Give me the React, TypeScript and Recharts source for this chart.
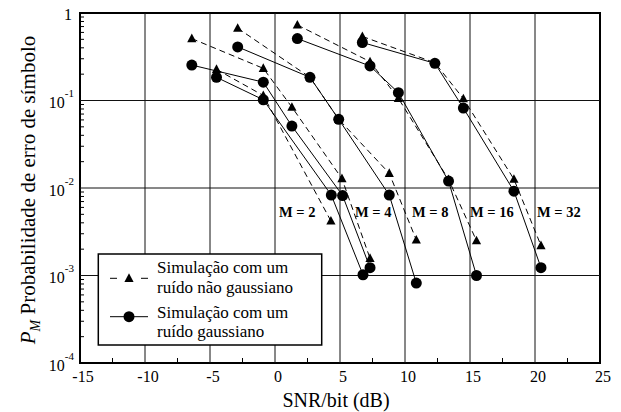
import React from "react";
import { LineChart, Line, XAxis, YAxis, ReferenceLine, ReferenceArea } from "recharts";

type Pt = { snr: number; p: number };

// SNR/bit (dB) vs symbol error probability
const m2Gauss: Pt[] = [
  { snr: -4.5, p: 0.184 },
  { snr: -0.9, p: 0.102 },
  { snr: 4.33, p: 0.0083 },
  { snr: 6.77, p: 0.00102 },
];
const m2NonGauss: Pt[] = [
  { snr: -4.5, p: 0.227 },
  { snr: -0.9, p: 0.114 },
  { snr: 4.3, p: 0.0042 },
];
const m4Gauss: Pt[] = [
  { snr: -6.4, p: 0.254 },
  { snr: -0.9, p: 0.162 },
  { snr: 1.3, p: 0.051 },
  { snr: 5.2, p: 0.0082 },
  { snr: 7.31, p: 0.00123 },
];
const m4NonGauss: Pt[] = [
  { snr: -6.4, p: 0.51 },
  { snr: -0.9, p: 0.233 },
  { snr: 1.3, p: 0.084 },
  { snr: 5.15, p: 0.0128 },
  { snr: 7.31, p: 0.00157 },
];
const m8Gauss: Pt[] = [
  { snr: -2.87, p: 0.41 },
  { snr: 2.69, p: 0.184 },
  { snr: 4.9, p: 0.061 },
  { snr: 8.79, p: 0.0083 },
  { snr: 10.87, p: 0.00082 },
];
const m8NonGauss: Pt[] = [
  { snr: -2.87, p: 0.67 },
  { snr: 2.69, p: 0.184 },
  { snr: 4.9, p: 0.061 },
  { snr: 8.79, p: 0.0147 },
  { snr: 10.87, p: 0.00255 },
];
const m16Gauss: Pt[] = [
  { snr: 1.72, p: 0.51 },
  { snr: 7.31, p: 0.248 },
  { snr: 9.49, p: 0.123 },
  { snr: 13.35, p: 0.012 },
  { snr: 15.5, p: 0.001 },
];
const m16NonGauss: Pt[] = [
  { snr: 1.72, p: 0.73 },
  { snr: 7.31, p: 0.278 },
  { snr: 9.49, p: 0.106 },
  { snr: 13.35, p: 0.0125 },
  { snr: 15.5, p: 0.0025 },
];
const m32Gauss: Pt[] = [
  { snr: 6.72, p: 0.46 },
  { snr: 12.3, p: 0.266 },
  { snr: 14.49, p: 0.082 },
  { snr: 18.38, p: 0.0092 },
  { snr: 20.46, p: 0.00123 },
];
const m32NonGauss: Pt[] = [
  { snr: 6.72, p: 0.54 },
  { snr: 12.3, p: 0.27 },
  { snr: 14.49, p: 0.105 },
  { snr: 18.38, p: 0.0126 },
  { snr: 20.46, p: 0.0022 },
];

const gaussSeries = [m2Gauss, m4Gauss, m8Gauss, m16Gauss, m32Gauss];
const nonGaussSeries = [m2NonGauss, m4NonGauss, m8NonGauss, m16NonGauss, m32NonGauss];

const xTicks = [-15, -12.5, -10, -7.5, -5, -2.5, 0, 2.5, 5, 7.5, 10, 12.5, 15, 17.5, 20, 22.5, 25];
const xGrid = [-10, -5, 0, 5, 10, 15, 20];
const yDecades = [0.0001, 0.001, 0.01, 0.1];
const yMantissas = [1, 2, 3, 4, 5, 6, 7, 8, 9];
const yTicks = [...yDecades.flatMap((d) => yMantissas.map((m) => m * d)), 1];
const yGrid = [0.1, 0.01, 0.001];

const mLabels = [
  { text: "M = 2", x: 271 },
  { text: "M = 4", x: 347 },
  { text: "M = 8", x: 404 },
  { text: "M = 16", x: 462 },
  { text: "M = 32", x: 529 },
];

const FONT = '"Liberation Serif", "Times New Roman", Times, "DejaVu Serif", serif';
const TXT = { fontFamily: FONT };

const isDecade = (v: number) => Math.abs(Math.log10(v) - Math.round(Math.log10(v))) < 1e-6;

function BottomTick({ x, y, payload }: any) {
  const v = payload.value as number;
  if (v % 5 !== 0) return <line x1={x} x2={x} y1={y} y2={y - 5} stroke="#000" />;
  return (
    <text x={x + 3} y={y + 19} textAnchor="middle" fontSize={16} style={TXT} fill="#000">
      {String(v)}
    </text>
  );
}

function TopTick({ x, y, payload }: any) {
  const v = payload.value as number;
  if (v % 5 === 0) return <g />;
  return <line x1={x} x2={x} y1={y} y2={y + 5} stroke="#000" />;
}

function LeftTick({ x, y, payload }: any) {
  const v = payload.value as number;
  if (!isDecade(v)) return <line x1={x} x2={x + 4} y1={y} y2={y} stroke="#000" />;
  const exp = Math.round(Math.log10(v));
  if (exp === 0)
    return (
      <text x={x - 8} y={y + 7} textAnchor="end" fontSize={16} style={TXT} fill="#000">
        1
      </text>
    );
  return (
    <text x={x - 6} y={y + 7.5} textAnchor="end" fontSize={16} style={TXT} fill="#000">
      10
      <tspan fontSize={11} dy={-11}>
        {String(exp)}
      </tspan>
    </text>
  );
}

function RightTick({ x, y, payload }: any) {
  const v = payload.value as number;
  if (isDecade(v)) return <g />;
  return <line x1={x} x2={x - 4} y1={y} y2={y} stroke="#000" />;
}

const renderCircle = (props: any) => (
  <circle key={`c${props.index}`} cx={props.cx} cy={props.cy} r={5.5} fill="#000" />
);

const renderTriangle = (props: any) => {
  const { cx, cy } = props;
  return (
    <path
      key={`t${props.index}`}
      d={`M${cx},${cy - 5} L${cx - 4.6},${cy + 3.6} L${cx + 4.6},${cy + 3.6} Z`}
      fill="#000"
    />
  );
};

export default function App() {
  return (
    <div
      style={{
        position: "relative",
        width: 613,
        height: 412,
        marginTop: -8,
        background: "#fff",
        fontFamily: FONT,
      }}
    >
      <LineChart width={613} height={412} margin={{ top: 13, right: 21, bottom: 5, left: 22 }}>
        <XAxis
          xAxisId="b"
          dataKey="snr"
          type="number"
          domain={[-15, 25]}
          ticks={xTicks}
          allowDataOverflow
          height={44}
          tickSize={0}
          tickMargin={0}
          tickLine={false}
          axisLine={false}
          interval={0}
          tick={<BottomTick />}
        />
        <XAxis
          xAxisId="t"
          orientation="top"
          dataKey="snr"
          type="number"
          domain={[-15, 25]}
          ticks={xTicks}
          allowDataOverflow
          height={0}
          tickSize={0}
          tickMargin={0}
          tickLine={false}
          axisLine={false}
          interval={0}
          tick={<TopTick />}
        />
        <YAxis
          yAxisId="l"
          type="number"
          scale="log"
          domain={[0.0001, 1]}
          ticks={yTicks}
          allowDataOverflow
          width={50}
          tickSize={0}
          tickMargin={0}
          tickLine={false}
          axisLine={false}
          interval={0}
          tick={<LeftTick />}
          label={{
            content: () => (
              <text
                transform="translate(27,190) rotate(-90)"
                textAnchor="middle"
                fontSize={21}
                style={TXT}
                fill="#000"
              >
                <tspan fontStyle="italic">P</tspan>
                <tspan fontStyle="italic" fontSize={14} dy={5}>
                  M
                </tspan>
                <tspan dy={-5}> Probabilidade de erro de símbolo</tspan>
              </text>
            ),
          }}
        />
        <YAxis
          yAxisId="r"
          orientation="right"
          type="number"
          scale="log"
          domain={[0.0001, 1]}
          ticks={yTicks}
          allowDataOverflow
          width={0}
          tickSize={0}
          tickMargin={0}
          tickLine={false}
          axisLine={false}
          interval={0}
          tick={<RightTick />}
        />
        {xGrid.map((v) => (
          <ReferenceLine key={`gx${v}`} xAxisId="b" yAxisId="l" x={v} stroke="#111" strokeWidth={1} />
        ))}
        {yGrid.map((v) => (
          <ReferenceLine key={`gy${v}`} xAxisId="b" yAxisId="l" y={v} stroke="#111" strokeWidth={1} />
        ))}
        <ReferenceArea
          xAxisId="b"
          yAxisId="l"
          x1={-15}
          x2={25}
          y1={0.0001}
          y2={1}
          fill="none"
          stroke="#000"
          strokeWidth={2}
        />
        {nonGaussSeries.map((s, i) => (
          <Line
            key={`ng${i}`}
            xAxisId="b"
            yAxisId="l"
            data={s}
            dataKey="p"
            type="linear"
            stroke="#000"
            strokeWidth={1}
            strokeDasharray="6 4"
            dot={renderTriangle}
            activeDot={false}
            isAnimationActive={false}
          />
        ))}
        {gaussSeries.map((s, i) => (
          <Line
            key={`g${i}`}
            xAxisId="b"
            yAxisId="l"
            data={s}
            dataKey="p"
            type="linear"
            stroke="#000"
            strokeWidth={1}
            dot={renderCircle}
            activeDot={false}
            isAnimationActive={false}
          />
        ))}
      </LineChart>

      <svg
        width={613}
        height={412}
        style={{ position: "absolute", left: 0, top: 0, pointerEvents: "none", fontFamily: FONT }}
      >
        <text x={328} y={407} textAnchor="middle" fontSize={20} fill="#000">
          SNR/bit (dB)
        </text>
        {mLabels.map((m) => (
          <text key={m.text} x={m.x} y={217} fontSize={14.5} fontWeight="bold" fill="#000">
            {m.text}
          </text>
        ))}
        <rect x={90.3} y={254} width={223.4} height={91} fill="#fff" stroke="#000" strokeWidth={1.5} />
        <line x1={102} x2={109} y1={278.3} y2={278.3} stroke="#000" />
        <path d="M121,273.3 L116.4,281.9 L125.6,281.9 Z" fill="#000" />
        <line x1={133} x2={140} y1={278.3} y2={278.3} stroke="#000" />
        <line x1={102} x2={140} y1={316.7} y2={316.7} stroke="#000" />
        <circle cx={121} cy={316.7} r={5.5} fill="#000" />
        <text x={149} y={273.3} fontSize={17} fill="#000">Simulação com um</text>
        <text x={149} y={293.3} fontSize={17} fill="#000">ruído não gaussiano</text>
        <text x={149} y={318.3} fontSize={17} fill="#000">Simulação com um</text>
        <text x={149} y={336.7} fontSize={17} fill="#000">ruído gaussiano</text>
      </svg>
    </div>
  );
}
